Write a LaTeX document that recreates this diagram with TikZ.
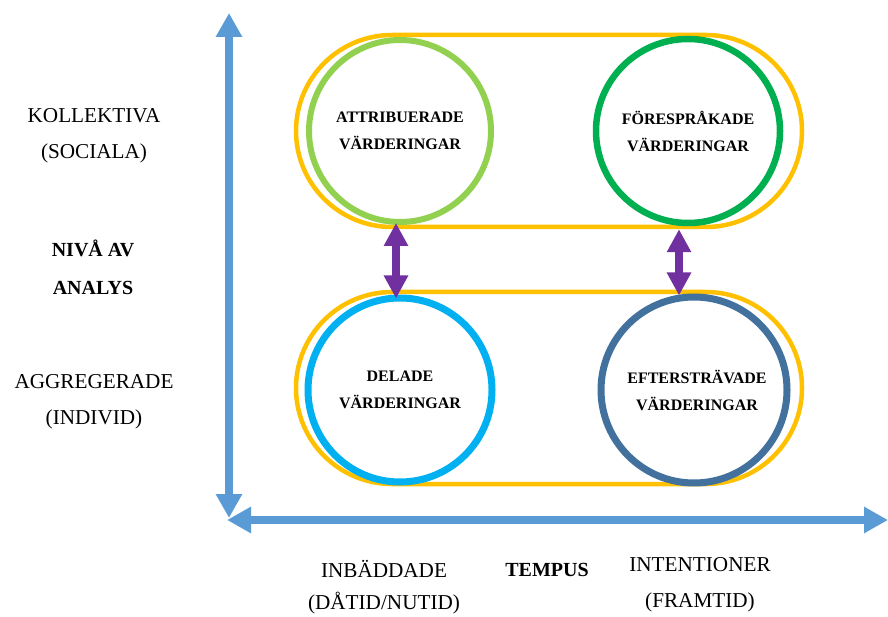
\documentclass[tikz,border=0pt]{standalone}
\usepackage{fontspec}
\setmainfont{Liberation Serif}
\usetikzlibrary{arrows.meta,shapes.misc}
\definecolor{pillyellow}{HTML}{FFC000}
\definecolor{lgreen}{HTML}{92D050}
\definecolor{dgreen}{HTML}{00B050}
\definecolor{lblue}{HTML}{00B0F0}
\definecolor{steel}{HTML}{41719C}
\definecolor{vpurple}{HTML}{7030A0}
\definecolor{axisblue}{HTML}{5B9BD5}
\tikzset{
  pill/.style={rounded rectangle, draw=pillyellow, line width=4.5pt, minimum width=506pt, minimum height=192pt, inner sep=0pt},
  valcircle/.style={circle, line width=6pt, minimum size=182pt, inner sep=0pt, align=center, font=\fontsize{16}{27}\selectfont\bfseries},
  sidelabel/.style={align=center, font=\fontsize{21.2}{36}\selectfont},
  boldlabel/.style={align=center, font=\fontsize{20}{38}\selectfont\bfseries},
  axisarrow/.style={draw=axisblue, line width=8.5pt, {Triangle[width=25pt,length=24pt]}-{Triangle[width=25pt,length=24pt]}},
  linkarrow/.style={draw=vpurple, line width=8pt, {Triangle[width=23pt,length=23pt]}-{Triangle[width=23pt,length=23pt]}}
}
\begin{document}
\begin{tikzpicture}[x=1pt,y=-1pt]
\useasboundingbox (0,0) rectangle (888,617);
% axes
\coordinate (vtop) at (229,13);
\coordinate (vbot) at (229,518);
\coordinate (hleft) at (227,520);
\coordinate (hright) at (888,520);
\draw[axisarrow] (vbot) -- (vtop);
\draw[axisarrow] (hleft) -- (hright);
% pills
\node[pill] (toppill) at (549,131) {};
\node[pill] (botpill) at (549,388) {};
% circles
\node[valcircle, draw=lgreen, line width=6pt] (attr) at (400,131) {ATTRIBUERADE\\VÄRDERINGAR};
\node[valcircle, draw=dgreen, line width=6.5pt, minimum size=184pt] (fore) at (688,131) {FÖRESPRÅKADE\\VÄRDERINGAR};
\node[valcircle, draw=lblue, line width=7pt, minimum size=184pt] (dela) at (400,390) {DELADE\\VÄRDERINGAR};
\node[valcircle, draw=steel, line width=7pt, minimum size=186pt] (efte) at (694,390) {\hspace*{6pt}EFTERSTRÄVADE\\\hspace*{6pt}VÄRDERINGAR};
% links
\draw[linkarrow] ([xshift=-4pt,yshift=2pt]attr.south) -- ([xshift=-4pt,yshift=-4pt]dela.north);
\draw[linkarrow] ([xshift=-9pt,yshift=-3pt]fore.south) -- ([xshift=-15pt,yshift=-2pt]efte.north);
% side labels
\node[sidelabel] (koll) at (94,136) {KOLLEKTIVA\\(SOCIALA)};
\node[boldlabel] (niva) at (93,267) {NIVÅ AV\\ANALYS};
\node[sidelabel] (aggr) at (94,402) {AGGREGERADE\\(INDIVID)};
% bottom labels
\node[sidelabel, font=\fontsize{21.2}{32}\selectfont] (inb) at (384,587) {INBÄDDADE\\(DÅTID/NUTID)};
\node[boldlabel] (temp) at (547,570) {TEMPUS};
\node[sidelabel] (inte) at (700,585) {INTENTIONER\\(FRAMTID)};
\end{tikzpicture}
\end{document}
